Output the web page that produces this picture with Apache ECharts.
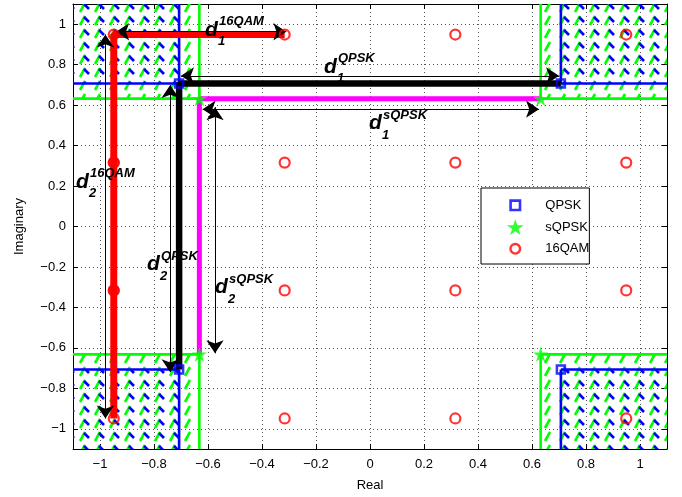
<!DOCTYPE html>
<html><head><meta charset="utf-8">
<script src="https://cdn.jsdelivr.net/npm/echarts@6/dist/echarts.min.js"></script>
<style>html,body{margin:0;padding:0;background:#fff}#c{width:682px;height:497px}</style>
</head><body><div id="c"></div>
<script>
// ---------------- data ----------------
const qpskPoints = [[0.707, 0.707], [-0.707, 0.707], [-0.707, -0.707], [0.707, -0.707]];
const sqpskPoints = [[0.632, 0.632], [-0.632, 0.632], [-0.632, -0.632], [0.632, -0.632]];
const qam16Points = [
  [-0.949, 0.949], [-0.316, 0.949], [0.316, 0.949], [0.949, 0.949],
  [-0.949, 0.316], [-0.316, 0.316], [0.316, 0.316], [0.949, 0.316],
  [-0.949, -0.316], [-0.316, -0.316], [0.316, -0.316], [0.949, -0.316],
  [-0.949, -0.949], [-0.316, -0.949], [0.316, -0.949], [0.949, -0.949]
];
const redPath = [[-0.316, 0.949], [-0.949, 0.949], [-0.949, 0.316], [-0.949, -0.316], [-0.949, -0.949]];
const redDots = [[-0.949, 0.316], [-0.949, -0.316]];
const blackPath = [[0.707, 0.707], [-0.707, 0.707], [-0.707, -0.707]];
const magentaPath = [[0.632, 0.632], [-0.632, 0.632], [-0.632, -0.632]];
// regions: [xmin, ymin, xmax, ymax]
const greenRegions = [[-1.1, 0.632, -0.632, 1.1], [0.632, 0.632, 1.1, 1.1], [-1.1, -1.1, -0.632, -0.632], [0.632, -1.1, 1.1, -0.632]];
const blueRegions = [[-1.1, 0.707, -0.707, 1.1], [0.707, 0.707, 1.1, 1.1], [-1.1, -1.1, -0.707, -0.707], [0.707, -1.1, 1.1, -0.707]];
// double arrows: [x1, y1, x2, y2]
const arrows = [
  [-0.94, 0.963, -0.31, 0.963],
  [-0.98, 0.949, -0.98, -0.949],
  [-0.70, 0.745, 0.70, 0.745],
  [-0.74, 0.70, -0.74, -0.72],
  [-0.62, 0.58, 0.626, 0.58],
  [-0.574, 0.59, -0.574, -0.627]
];
const labelX = [-0.607, -0.167, 0.0, -1.085, -0.822, -0.570];
const labelY = [0.938, 0.755, 0.477, 0.186, -0.220, -0.334];
const labelSub = ['1', '1', '1', '2', '2', '2'];
const labelSup = ['16QAM', 'QPSK', 'sQPSK', '16QAM', 'QPSK', 'sQPSK'];
const axisMin = -1.1, axisMax = 1.1, tickStep = 0.2;
const xName = 'Real', yName = 'Imaginary';
const legendNames = ['QPSK', 'sQPSK', '16QAM'];

// ---------------- styles ----------------
const FONT = '"Liberation Sans", Arial, Helvetica, sans-serif';
function makePattern(color, w, h, segs, lw) {
  const c = document.createElement('canvas');
  c.width = w; c.height = h;
  const g = c.getContext('2d');
  g.strokeStyle = color; g.lineWidth = lw; g.lineCap = 'butt';
  segs.forEach(s => { g.beginPath(); g.moveTo(s[0], s[1]); g.lineTo(s[2], s[3]); g.stroke(); });
  return c;
}
const greenPattern = makePattern('#00ff00', 15, 13, [[5, 12, 10, 3]], 2.6);
const bluePattern = makePattern('#0000ff', 15, 13, [[9, 4, 14, 9]], 2.6);
const starPath = 'path://M50,0 L61.2,34.5 L97.6,34.5 L68.2,55.9 L79.4,90.5 L50,69.1 L20.6,90.5 L31.8,55.9 L2.4,34.5 L38.8,34.5 Z';
const legendSquare = 'path://M0,0 M16,16 M3.3,3.3 L12.7,3.3 L12.7,12.7 L3.3,12.7 Z';
const legendCircle = 'path://M0,0 M16,16 M8,3.2 A4.8,4.8 0 1 1 7.99,3.2 Z';

function regionRender(color, pattern) {
  return function (params, api) {
    const x0 = api.value(0), y0 = api.value(1), x1 = api.value(2), y1 = api.value(3);
    const p0 = api.coord([x0, y1]), p1 = api.coord([x1, y0]);
    const children = [{
      type: 'rect',
      shape: { x: p0[0], y: p0[1], width: p1[0] - p0[0], height: p1[1] - p0[1] },
      style: { fill: { image: pattern, repeat: 'repeat' } }
    }];
    const edges = [];
    const lim = axisMax - 1e-6;
    if (Math.abs(x0) < lim) edges.push([[x0, y0], [x0, y1]]);
    if (Math.abs(x1) < lim) edges.push([[x1, y0], [x1, y1]]);
    if (Math.abs(y0) < lim) edges.push([[x0, y0], [x1, y0]]);
    if (Math.abs(y1) < lim) edges.push([[x0, y1], [x1, y1]]);
    edges.forEach(e => {
      const a = api.coord(e[0]), b = api.coord(e[1]);
      children.push({ type: 'line', shape: { x1: a[0], y1: a[1], x2: b[0], y2: b[1] }, style: { stroke: color, lineWidth: 2.6 } });
    });
    return { type: 'group', children };
  };
}

function tickFmt(v) {
  if (Math.abs(v) > 1.05) return '';
  const r = Math.round(v * 10) / 10;
  if (r === 0) return '0';
  return (r < 0 ? '\u2212' : '') + String(Math.abs(r));
}

const axisBase = {
  type: 'value', min: axisMin, max: axisMax, splitNumber: 11,
  minInterval: tickStep, maxInterval: tickStep,
  axisLine: { show: true, onZero: false, lineStyle: { color: '#000', width: 1 } },
  axisTick: { show: true, inside: true, length: 5, lineStyle: { color: '#000' } }
};

const chart = echarts.init(document.getElementById('c'), null, { renderer: 'canvas' });
chart.setOption({
  animation: false,
  backgroundColor: '#fff',
  textStyle: { fontFamily: FONT },
  grid: { left: 73, right: 15, top: 4, bottom: 48 },
  xAxis: [
    Object.assign({}, axisBase, {
      position: 'bottom', name: xName, nameLocation: 'middle', nameGap: 30,
      nameTextStyle: { fontSize: 13, color: '#000', fontFamily: FONT },
      axisLabel: { formatter: tickFmt, fontSize: 13, color: '#000', margin: 9, fontFamily: FONT },
      splitLine: { show: true, lineStyle: { color: '#555', type: [1, 3], width: 1 } }
    }),
    Object.assign({}, axisBase, { position: 'top', axisLabel: { show: false }, splitLine: { show: false } })
  ],
  yAxis: [
    Object.assign({}, axisBase, {
      position: 'left', name: yName, nameLocation: 'middle', nameGap: 47,
      nameTextStyle: { fontSize: 13, color: '#000', fontFamily: FONT },
      axisLabel: { formatter: tickFmt, fontSize: 13, color: '#000', margin: 7, fontFamily: FONT },
      splitLine: { show: true, lineStyle: { color: '#555', type: [1, 3], width: 1 } }
    }),
    Object.assign({}, axisBase, { position: 'right', axisLabel: { show: false }, splitLine: { show: false } })
  ],
  legend: {
    data: [
      { name: legendNames[0], icon: legendSquare, itemStyle: { color: 'rgba(0,0,0,0)', borderColor: '#0000ff', borderWidth: 2.6 } },
      { name: legendNames[1], icon: starPath, itemStyle: { color: '#00ff00', borderWidth: 0 } },
      { name: legendNames[2], icon: legendCircle, itemStyle: { color: 'rgba(0,0,0,0)', borderColor: '#ff0000', borderWidth: 2.4 } }
    ],
    orient: 'vertical', left: 481, top: 188, symbolKeepAspect: true,
    backgroundColor: '#fff', borderColor: '#000', borderWidth: 1, borderRadius: 0,
    padding: [8, 0, 6, 25], itemGap: 4.5, itemWidth: 50, itemHeight: 16,
    textStyle: { fontSize: 13, color: '#000', fontFamily: FONT }
  },
  series: [
    { type: 'custom', name: 'greenRegion', renderItem: regionRender('#00ff00', greenPattern),
      data: greenRegions, encode: { x: [0, 2], y: [1, 3] }, z: 1, silent: true },
    { type: 'custom', name: 'blueRegion', renderItem: regionRender('#0000ff', bluePattern),
      data: blueRegions, encode: { x: [0, 2], y: [1, 3] }, z: 2, silent: true },
    { type: 'line', name: 'magentaPath', data: magentaPath, symbol: 'none', z: 3,
      lineStyle: { color: '#ff00ff', width: 5 } },
    { type: 'line', name: 'blackPath', data: blackPath, symbol: 'none', z: 3,
      lineStyle: { color: '#000', width: 6.5 } },
    { type: 'line', name: 'redPath', data: redPath, symbol: 'none', z: 3,
      lineStyle: { color: '#ff0000', width: 7 } },
    { type: 'scatter', name: 'redDots', data: redDots, symbol: 'circle', symbolSize: 12, z: 4,
      itemStyle: { color: '#ff0000' } },
    { type: 'lines', name: 'arrows', coordinateSystem: 'cartesian2d', z: 5,
      symbol: ['arrow', 'arrow'], symbolSize: 13,
      lineStyle: { color: '#000', width: 1, opacity: 1 },
      data: arrows.map(a => ({ coords: [[a[0], a[1]], [a[2], a[3]]] })) },
    { type: 'scatter', name: 'QPSK', data: qpskPoints, symbol: 'rect', symbolSize: 8, z: 6,
      itemStyle: { color: 'rgba(0,0,0,0)', borderColor: '#0000ff', borderWidth: 2.5 } },
    { type: 'scatter', name: 'sQPSK', data: sqpskPoints, symbol: starPath, symbolSize: 15, z: 6,
      itemStyle: { color: '#00ff00' } },
    { type: 'scatter', name: '16QAM', data: qam16Points, symbol: 'circle', symbolSize: 10, z: 6,
      itemStyle: { color: 'rgba(0,0,0,0)', borderColor: '#ff0000', borderWidth: 2.2 } },
    { type: 'custom', name: 'labels', z: 7, silent: true,
      data: labelX.map((x, i) => [x, labelY[i]]), encode: { x: 0, y: 1 },
      renderItem: function (params, api) {
        const i = params.dataIndex;
        const p = api.coord([api.value(0), api.value(1)]);
        const bi = 'italic bold ';
        return { type: 'group', x: p[0], y: p[1], children: [
          { type: 'text', style: { text: 'd', x: -1, y: -7, font: bi + '21px ' + FONT, fill: '#000', verticalAlign: 'middle' } },
          { type: 'text', style: { text: labelSup[i], x: 13, y: -15, font: bi + '13px ' + FONT, fill: '#000', verticalAlign: 'middle' } },
          { type: 'text', style: { text: labelSub[i], x: 12, y: 5, font: bi + '13px ' + FONT, fill: '#000', verticalAlign: 'middle' } }
        ] };
      } }
  ]
});
</script></body></html>
